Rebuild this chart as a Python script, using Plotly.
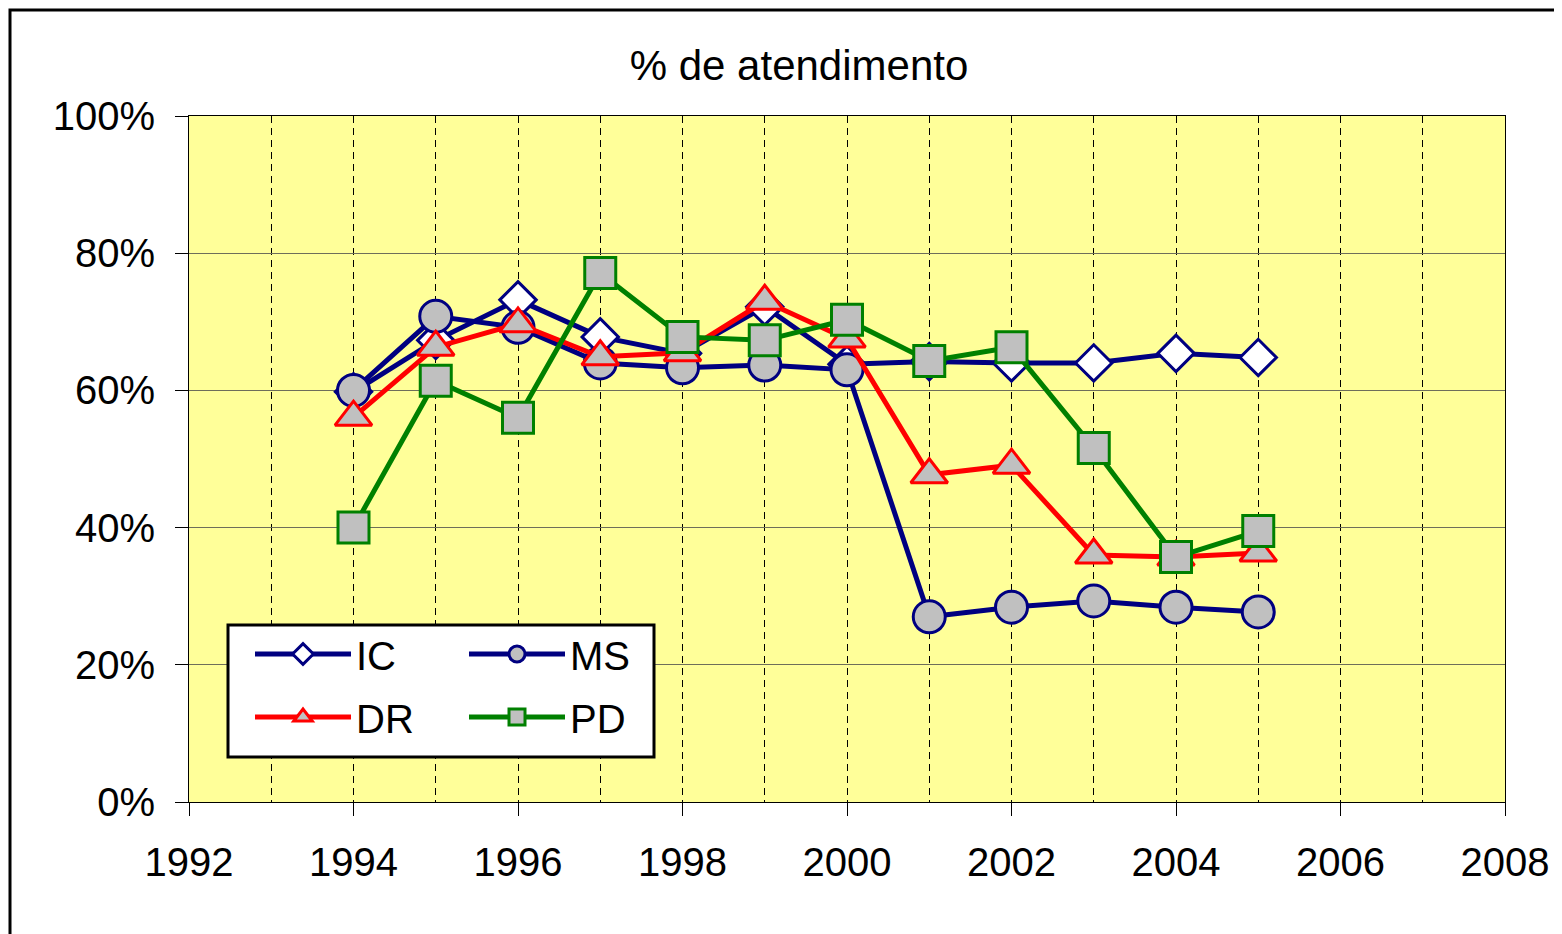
import plotly.graph_objects as go

years = [1994, 1995, 1996, 1997, 1998, 1999, 2000, 2001, 2002, 2003, 2004, 2005]
ic = [59.8, 67.3, 73.2, 67.8, 65.4, 72.2, 63.8, 64.2, 64.0, 64.0, 65.4, 64.8]
ms = [60.0, 70.8, 69.2, 64.0, 63.3, 63.7, 63.0, 27.0, 28.4, 29.3, 28.4, 27.7]
dr = [56.1, 66.3, 69.7, 64.9, 65.5, 73.0, 67.5, 47.7, 49.1, 36.0, 35.7, 36.3]
pd_ = [40.0, 61.4, 56.0, 77.1, 67.8, 67.3, 70.3, 64.3, 66.3, 51.6, 35.7, 39.5]

names = ["IC", "MS", "DR", "PD"]
title_text = "% de atendimento"

NAVY = "#000080"
GRAY = "#C0C0C0"
FONT = "Liberation Sans, Arial, sans-serif"

# page body has an 8px margin: figure is offset by (8, 8)
OFF = 8
W, H = 1562 - OFF, 934 - OFF
PL, PR, PT, PB = 189, 1505, 116, 802  # plot area in page pixels
PW, PH = PR - PL, PB - PT


def pct(v):
    return [x / 100 for x in v]


def px(xpage):
    return (xpage - PL) / PW


def py(ypage):
    return (PB - ypage) / PH


fig = go.Figure()
fig.add_trace(go.Scatter(x=years, y=pct(ic), name=names[0], mode="lines+markers",
                         line=dict(color=NAVY, width=5),
                         marker=dict(symbol="diamond", size=28, color="white",
                                     line=dict(color=NAVY, width=3)),
                         legend="legend"))
fig.add_trace(go.Scatter(x=years, y=pct(ms), name=names[1], mode="lines+markers",
                         line=dict(color=NAVY, width=5),
                         marker=dict(symbol="circle", size=32, color=GRAY,
                                     line=dict(color=NAVY, width=3)),
                         legend="legend"))
fig.add_trace(go.Scatter(x=years, y=pct(dr), name=names[2], mode="lines+markers",
                         line=dict(color="#FF0000", width=5),
                         marker=dict(symbol="triangle-up", size=32, color=GRAY,
                                     line=dict(color="#FF0000", width=3)),
                         legend="legend2"))
fig.add_trace(go.Scatter(x=years, y=pct(pd_), name=names[3], mode="lines+markers",
                         line=dict(color="#008000", width=5),
                         marker=dict(symbol="square", size=31, color=GRAY,
                                     line=dict(color="#008000", width=3)),
                         legend="legend2"))

legend_common = dict(orientation="h", xanchor="left", yanchor="middle",
                     bgcolor="rgba(0,0,0,0)", borderwidth=0,
                     font=dict(family=FONT, size=40, color="black"),
                     itemwidth=96, entrywidthmode="pixels", entrywidth=103,
                     traceorder="normal", itemclick=False)

fig.update_layout(
    width=W, height=H,
    margin=dict(l=PL - OFF, r=W - (PR - OFF), t=PT - OFF, b=H - (PB - OFF), pad=0),
    paper_bgcolor="white",
    plot_bgcolor="#FFFF99",
    font=dict(family=FONT, size=40, color="black"),
    title=dict(text=title_text, x=(799 - OFF) / W, xref="container", xanchor="center",
               y=1 - (65 - OFF) / H, yref="container", yanchor="middle",
               font=dict(family=FONT, size=42, color="black")),
    showlegend=True,
    legend=dict(x=px(250), y=py(654), **legend_common),
    legend2=dict(x=px(250), y=py(717), **legend_common),
    xaxis=dict(range=[1992, 2008], tick0=1992, dtick=2, tickformat="d",
               ticks="outside", ticklen=13, tickcolor="black", tickwidth=1,
               showline=True, linecolor="black", linewidth=1, mirror=True,
               showgrid=True, gridcolor="black", gridwidth=1, griddash="7px,5px",
               minor=dict(dtick=1, tick0=1992, showgrid=True, gridcolor="black",
                          gridwidth=1, griddash="7px,5px", ticks=""),
               zeroline=False, ticklabelstandoff=12,
               tickfont=dict(family=FONT, size=40, color="black")),
    yaxis=dict(range=[0, 1], dtick=0.2, tickformat=".0%",
               ticks="outside", ticklen=13, tickcolor="black", tickwidth=1,
               showline=True, linecolor="black", linewidth=1, mirror=True,
               showgrid=True, gridcolor="#6E6E5A", gridwidth=1,
               zeroline=False, ticklabelstandoff=12,
               tickfont=dict(family=FONT, size=40, color="black")),
    shapes=[
        dict(type="rect", xref="paper", yref="paper",
             x0=px(228), x1=px(654), y0=py(757), y1=py(625),
             fillcolor="white", line=dict(color="black", width=3), layer="above"),
        dict(type="rect", xref="paper", yref="paper",
             x0=px(10), x1=1.2, y0=-0.5, y1=py(10),
             fillcolor="rgba(0,0,0,0)", line=dict(color="black", width=3), layer="above"),
    ],
)

fig.write_html("out.html")
